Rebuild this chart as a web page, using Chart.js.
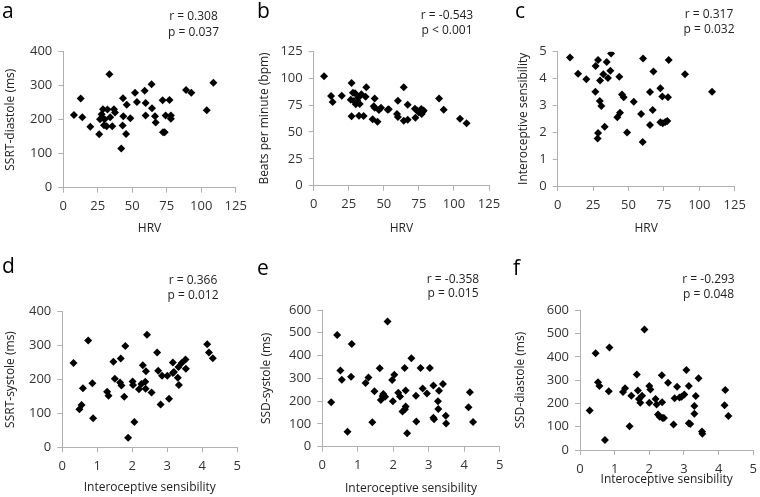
<!DOCTYPE html>
<html>
<head>
<meta charset="utf-8">
<script src="https://cdn.jsdelivr.net/npm/chart.js@4"></script>
<style>
body { margin: 0; background: #fff; width: 760px; height: 497px; position: relative; overflow: hidden; font-family: 'Open Sans', sans-serif; }
canvas { position: absolute; }
.letter { position: absolute; font-size: 21px; line-height: 1; color: #000; }
.stat { position: absolute; font-size: 12px; line-height: 1; color: #222; white-space: nowrap; transform: translate(-50%, -50%); }
</style>
</head>
<body>
<script>
// panel a: HRV vs SSRT-diastole
const aHrv = [7.7, 12.6, 13.8, 19.6, 26, 26.6, 27.8, 28.8, 28, 29.5, 30, 31.4, 32, 33.4, 34, 35.5, 36.7, 37.5, 42, 43, 43.3, 43.5, 45.5, 46, 48.6, 52, 53.4, 59, 59.7, 59.7, 64, 64.3, 66.5, 67, 72, 72.3, 73.5, 74.2, 77, 78, 78, 89, 92.8, 104, 108.8];
const aSsrtDia = [214, 262, 207, 179, 157, 201, 216, 231, 206, 184, 201, 181, 230, 334, 207, 181, 231, 221, 115, 183, 263, 210, 158, 244, 204, 279, 252, 285, 249, 212, 304, 234, 210, 192, 257, 163, 163, 212, 258, 203, 212, 287, 279, 228, 309];

// panel b: HRV vs heart rate
const bHrv = [7.4, 12.4, 13.5, 20, 26.4, 27, 27, 28, 28.7, 29.5, 30, 31, 32, 32.3, 32.8, 34, 35.6, 37, 37.5, 42, 42.8, 43.5, 43.5, 45.5, 46.5, 48, 52.8, 53.5, 59.4, 60, 60, 64.2, 64.2, 67, 67, 72.2, 72.5, 73.7, 75, 76.7, 77, 78, 78.4, 89.4, 92.7, 104.3, 109];
const bBpm = [101.7, 83.4, 77.9, 83.7, 80, 95.5, 64.5, 86.5, 78.8, 86, 75.7, 79, 82, 65, 76, 85, 64.8, 82.8, 91.5, 61.7, 74, 81, 72.5, 59.5, 70.4, 72.6, 70.7, 71, 66.7, 64, 79, 91.5, 60.5, 75.4, 61.4, 71.6, 63.3, 70, 68, 71.3, 66.7, 69, 70, 81, 70.7, 62.3, 58];

// panel c: HRV vs interoceptive sensibility
const cHrv = [8.7, 14.4, 20.2, 26.6, 26.8, 28.5, 28.5, 28.2, 29.9, 29.7, 30.8, 32.2, 33.2, 34.6, 35.5, 37.2, 37.7, 42.1, 43.5, 44, 45.4, 46.6, 49, 53.7, 58.9, 60, 60.3, 65.2, 65.2, 67.1, 67.6, 72.5, 72.5, 73.9, 74.2, 76, 77.4, 77.9, 78.4, 89.9, 109];
const cSens = [4.78, 4.18, 3.97, 3.51, 4.47, 4.69, 1.97, 1.77, 3.93, 3.16, 2.98, 4.16, 2.21, 4.62, 4.02, 4.29, 4.93, 2.56, 4.07, 2.73, 3.41, 3.30, 1.99, 3.14, 2.68, 1.64, 4.75, 2.27, 3.5, 2.83, 4.26, 3.64, 2.37, 3.33, 2.34, 2.38, 2.42, 3.30, 4.69, 4.16, 3.51];

// panel d: sensibility vs SSRT-systole
const dSens = [0.32, 0.49, 0.55, 0.59, 0.74, 0.86, 0.88, 1.28, 1.32, 1.46, 1.50, 1.65, 1.67, 1.69, 1.77, 1.80, 1.88, 2.01, 2.02, 2.06, 2.19, 2.26, 2.30, 2.37, 2.38, 2.39, 2.42, 2.55, 2.71, 2.74, 2.81, 2.85, 3.00, 3.05, 3.16, 3.16, 3.19, 3.30, 3.33, 3.32, 3.41, 3.52, 3.53, 4.14, 4.19, 4.30];
const dSsrtSys = [249, 112, 125, 174, 315, 189, 86, 164, 152, 252, 202, 191, 262, 182, 149, 299, 28, 194, 184, 75, 171, 187, 242, 193, 173, 224, 332, 162, 280, 226, 126, 211, 211, 143, 250, 219, 222, 205, 184, 237, 249, 259, 232, 304, 280, 263];

// panel e: sensibility vs SSD-systole
const eSens = [0.25, 0.42, 0.51, 0.55, 0.71, 0.81, 0.83, 1.22, 1.30, 1.41, 1.47, 1.62, 1.65, 1.70, 1.72, 1.77, 1.84, 1.97, 1.99, 2.03, 2.14, 2.19, 2.26, 2.33, 2.35, 2.32, 2.35, 2.39, 2.51, 2.64, 2.65, 2.77, 2.83, 2.95, 3.03, 3.13, 3.13, 3.15, 3.26, 3.27, 3.29, 3.40, 3.48, 3.49, 4.12, 4.16, 4.25];
const eSsdSys = [195, 490, 334, 294, 66, 307, 451, 280, 304, 107, 243, 344, 205, 222, 231, 219, 549, 293, 200, 316, 237, 220, 154, 164, 176, 345, 247, 59, 388, 224, 111, 345, 255, 233, 345, 269, 127, 120, 199, 165, 246, 275, 136, 102, 173, 239, 108];

// panel f: sensibility vs SSD-diastole
const fSens = [0.28, 0.45, 0.52, 0.56, 0.72, 0.83, 0.85, 1.24, 1.30, 1.43, 1.48, 1.64, 1.67, 1.70, 1.74, 1.79, 1.86, 2.0, 2.0, 2.03, 2.18, 2.21, 2.25, 2.30, 2.36, 2.37, 2.38, 2.42, 2.54, 2.70, 2.73, 2.80, 2.87, 2.93, 3.01, 3.07, 3.14, 3.14, 3.18, 3.30, 3.30, 3.34, 3.42, 3.52, 3.53, 4.17, 4.19, 4.28];
const fSsdDia = [170, 415, 291, 275, 43, 252, 440, 249, 265, 102, 233, 324, 256, 219, 203, 233, 518, 203, 275, 260, 219, 195, 152, 143, 321, 205, 137, 137, 289, 109, 222, 272, 225, 229, 238, 344, 275, 115, 112, 189, 156, 232, 308, 79, 70, 192, 258, 146];

const axisGrey = '#b0b0b0';
const tickFont = { family: "'Open Sans', sans-serif", size: 13 };
const titleFont = { family: "'Open Sans', sans-serif", size: 12 };
const LH = 12 * 1.2;

function pts(xs, ys) {
    return xs.map((x, i) => ({ x: x, y: ys[i] }));
}

function scaleOpts(min, max, step, title) {
    return {
        type: 'linear',
        min: min,
        max: max,
        ticks: { stepSize: step, color: '#333', font: tickFont, padding: 6 },
        grid: { drawOnChartArea: false, drawTicks: true, tickLength: 5, color: axisGrey },
        border: { color: axisGrey, width: 1 },
        title: { display: true, text: title, color: '#222', font: titleFont, padding: 0 }
    };
}

function makePanel(p) {
    const c = document.createElement('canvas');
    c.width = p.w;
    c.height = p.h;
    c.style.left = p.left + 'px';
    c.style.top = p.top + 'px';
    document.body.appendChild(c);

    const padLeft = p.yTitleX - p.left - LH / 2;
    const yWidth = p.x0 - p.left - padLeft;
    const xBottom = p.xTitleY + LH / 2;
    const xHeight = xBottom - p.y1;

    const xs = scaleOpts(p.xMin, p.xMax, p.xStep, p.xTitle);
    xs.afterFit = s => { s.height = xHeight; s.paddingLeft = 0; s.paddingRight = 0; };
    const ys = scaleOpts(p.yMin, p.yMax, p.yStep, p.yTitle);
    ys.afterFit = s => { s.width = yWidth; s.paddingTop = 0; s.paddingBottom = 0; };

    new Chart(c.getContext('2d'), {
        type: 'scatter',
        data: {
            datasets: [{
                data: pts(p.xs, p.ys),
                pointStyle: 'rectRot',
                pointRadius: 4,
                backgroundColor: '#000',
                borderColor: '#000',
                borderWidth: 0
            }]
        },
        options: {
            responsive: false,
            animation: false,
            layout: {
                padding: {
                    left: padLeft,
                    top: p.y0 - p.top,
                    right: p.left + p.w - p.x1,
                    bottom: p.top + p.h - xBottom
                }
            },
            plugins: { legend: { display: false }, tooltip: { enabled: false } },
            scales: { x: xs, y: ys }
        }
    });

    const l = document.createElement('div');
    l.className = 'letter';
    l.textContent = p.letter;
    l.style.left = p.letterX + 'px';
    l.style.top = p.letterY + 'px';
    document.body.appendChild(l);

    p.stats.forEach((t, i) => {
        const d = document.createElement('div');
        d.className = 'stat';
        d.textContent = t;
        d.style.left = p.statX + 'px';
        d.style.top = p.statY[i] + 'px';
        document.body.appendChild(d);
    });
}

makePanel({ letter: 'a', left: 0, top: 0, w: 253, h: 245, x0: 63.3, x1: 235.7, y0: 51.7, y1: 187.7,
    yTitleX: 10.5, xTitleY: 229, letterX: 2, letterY: 0, statX: 193.5, statY: [16, 32],
    stats: ['r = 0.308', 'p = 0.037'], xs: aHrv, ys: aSsrtDia,
    xMin: 0, xMax: 125, xStep: 25, yMin: 0, yMax: 400, yStep: 100, xTitle: 'HRV', yTitle: 'SSRT-diastole (ms)' });

makePanel({ letter: 'b', left: 253, top: 0, w: 253, h: 245, x0: 313.7, x1: 489, y0: 51.3, y1: 185.7,
    yTitleX: 264.5, xTitleY: 229, letterX: 257, letterY: 0, statX: 447, statY: [15, 30],
    stats: ['r = -0.543', 'p < 0.001'], xs: bHrv, ys: bBpm,
    xMin: 0, xMax: 125, xStep: 25, yMin: 0, yMax: 125, yStep: 25, xTitle: 'HRV', yTitle: 'Beats per minute (bpm)' });

makePanel({ letter: 'c', left: 506, top: 0, w: 254, h: 245, x0: 557.7, x1: 734.7, y0: 51.7, y1: 186,
    yTitleX: 524, xTitleY: 229, letterX: 515, letterY: 0, statX: 709, statY: [14, 29],
    stats: ['r = 0.317', 'p = 0.032'], xs: cHrv, ys: cSens,
    xMin: 0, xMax: 125, xStep: 25, yMin: 0, yMax: 5, yStep: 1, xTitle: 'HRV', yTitle: 'Interoceptive sensibility' });

makePanel({ letter: 'd', left: 0, top: 245, w: 253, h: 252, x0: 62.3, x1: 237.3, y0: 311.7, y1: 447.3,
    yTitleX: 11, xTitleY: 488, letterX: 2, letterY: 255, statX: 193, statY: [280, 295],
    stats: ['r = 0.366', 'p = 0.012'], xs: dSens, ys: dSsrtSys,
    xMin: 0, xMax: 5, xStep: 1, yMin: 0, yMax: 400, yStep: 100, xTitle: 'Interoceptive sensibility', yTitle: 'SSRT-systole (ms)' });

makePanel({ letter: 'e', left: 253, top: 245, w: 253, h: 252, x0: 322.3, x1: 499.7, y0: 310, y1: 446.7,
    yTitleX: 267, xTitleY: 489, letterX: 257, letterY: 257, statX: 453, statY: [279, 293],
    stats: ['r = -0.358', 'p = 0.015'], xs: eSens, ys: eSsdSys,
    xMin: 0, xMax: 5, xStep: 1, yMin: 0, yMax: 600, yStep: 100, xTitle: 'Interoceptive sensibility', yTitle: 'SSD-systole (ms)' });

makePanel({ letter: 'f', left: 506, top: 245, w: 254, h: 252, x0: 580, x1: 753.3, y0: 310.3, y1: 450,
    yTitleX: 521, xTitleY: 480, letterX: 513, letterY: 257, statX: 708.5, statY: [279, 294],
    stats: ['r = -0.293', 'p = 0.048'], xs: fSens, ys: fSsdDia,
    xMin: 0, xMax: 5, xStep: 1, yMin: 0, yMax: 600, yStep: 100, xTitle: 'Interoceptive sensibility', yTitle: 'SSD-diastole (ms)' });
</script>
</body>
</html>
